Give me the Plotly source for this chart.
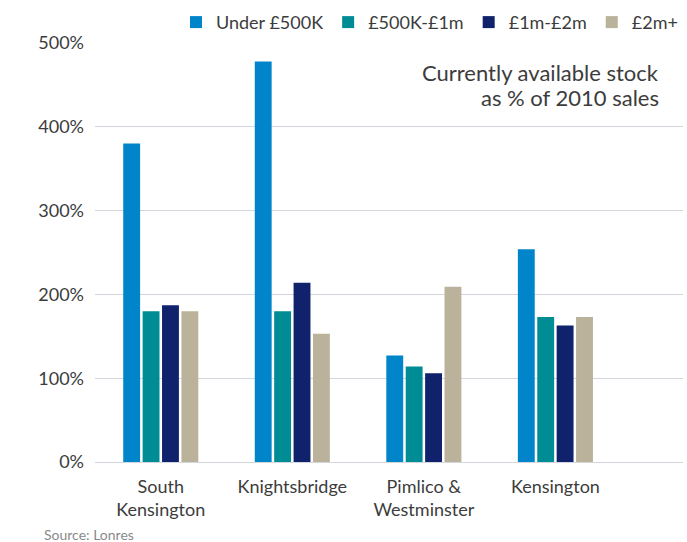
import plotly.graph_objects as go

areas = ["South<br>Kensington", "Knightsbridge", "Pimlico &<br>Westminster", "Kensington"]
bands = ["Under £500K", "£500K-£1m", "£1m-£2m", "£2m+"]
under_500k = [380, 478, 127, 254]
k500_1m = [180, 180, 114, 173]
m1_2m = [187, 214, 106, 163]
m2_plus = [180, 153, 209, 173]
series = [under_500k, k500_1m, m1_2m, m2_plus]
colors = ["#0085CA", "#008C95", "#10226B", "#BAB29A"]

y_ticks = [0, 100, 200, 300, 400, 500]
y_labels = [f"{v}%" for v in y_ticks]

text_color = "#3c3c3c"
grid_color = "#d3d6dc"

fig = go.Figure()
for name, vals, col in zip(bands, series, colors):
    fig.add_trace(go.Bar(x=areas, y=vals, name=name, marker=dict(color=col, line=dict(width=0))))

# plot area: x 95..683, y 43..462 px
fig.update_layout(
    width=687, height=542,
    margin=dict(l=95, r=4, t=43, b=80),
    paper_bgcolor="white", plot_bgcolor="white",
    font=dict(family="Lato", size=17, color=text_color),
    barmode="group", bargap=0.41, bargroupgap=0.13,
    showlegend=True,
    legend=dict(orientation="h", x=1.0, xanchor="right", y=1.005, yanchor="bottom",
                font=dict(size=18, color=text_color), traceorder="normal",
                itemwidth=30, bgcolor="rgba(0,0,0,0)"),
    xaxis=dict(type="category", range=[-0.5, 3.97], showgrid=False, ticks="",
               ticklabelstandoff=12,
               tickfont=dict(size=18, color=text_color), showline=False),
    yaxis=dict(range=[0, 500], tickvals=y_ticks, ticktext=y_labels, showgrid=True,
               gridcolor=grid_color, gridwidth=1.3, zeroline=True, zerolinecolor=grid_color,
               zerolinewidth=1.3, ticks="", ticklabelstandoff=10,
               tickfont=dict(size=18, color=text_color)),
    annotations=[
        dict(text="Currently available stock", xref="paper", yref="paper",
             x=0.963, y=(462 - 72) / 419, xanchor="right", yanchor="middle", showarrow=False,
             font=dict(size=22, color=text_color)),
        dict(text="as % of 2010 sales", xref="paper", yref="paper",
             x=0.963, y=(462 - 98) / 419, xanchor="right", yanchor="middle", showarrow=False,
             font=dict(size=22, color=text_color)),
        dict(text="Source: Lonres", xref="paper", yref="paper", x=-0.09, y=-72 / 419,
             xanchor="left", yanchor="middle", showarrow=False,
             font=dict(size=14, color="#8a8a8a")),
    ],
)

fig.write_html("out.html")
